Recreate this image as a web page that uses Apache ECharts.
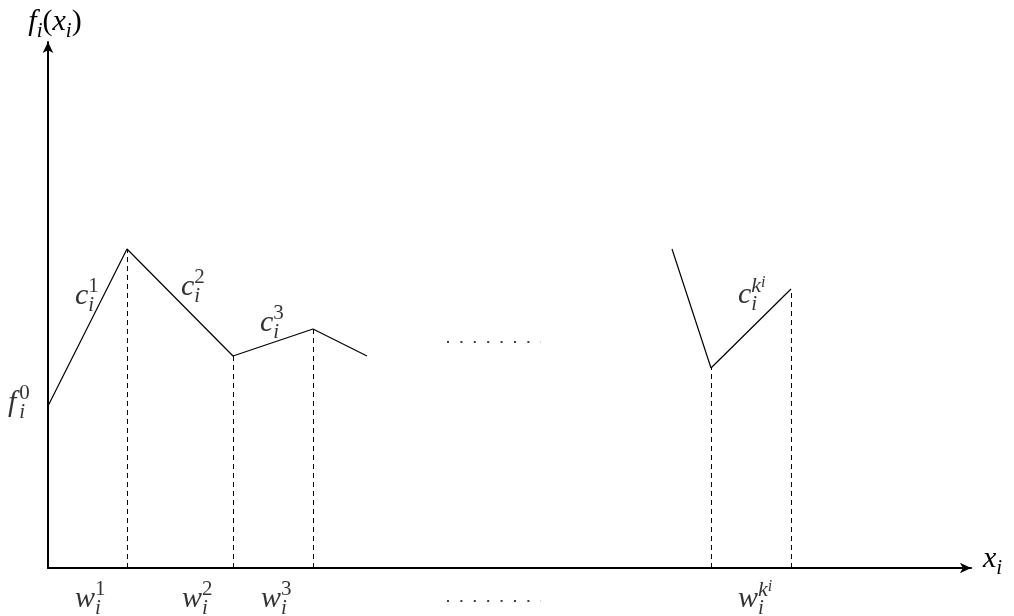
<!DOCTYPE html>
<html>
<head>
<meta charset="utf-8">
<script src="https://cdn.jsdelivr.net/npm/echarts@6/dist/echarts.min.js"></script>
<style>
  html, body { margin: 0; padding: 0; background: #fff; }
  #chart { width: 1014px; height: 616px; }
</style>
</head>
<body>
<div id="chart"></div>
<script>
// units: x = horizontal position along x_i, y = f_i(x_i)
const firstX = [0, 0.79, 1.85, 2.65, 3.19]
const firstY = [1.62, 3.19, 2.12, 2.39, 2.12]
const lastX = [6.24, 6.63, 7.43]
const lastY = [3.19, 2.00, 2.79]

// breakpoints w_i^j with dashed drop lines
const dropX = [0.79, 1.85, 2.65, 6.63, 7.43]
const dropY = [3.19, 2.12, 2.39, 2.00, 2.79]

// the two dotted "..." gaps
const dotsX = [3.99, 4.93]
const dotsTopY = 2.26
const dotsBottomY = -0.33

// text labels: [x, y, rich text]
const labelX = [-0.40, 0.27, 1.33, 2.12, 6.90, 0.27, 1.34, 2.13, 6.90]
const labelY = [1.65, 2.72, 2.81, 2.45, 2.73, -0.31, -0.31, -0.31, -0.31]
const labelText = [
  '{it|f}{gap|}{sup|0}{sub|i}',
  '{it|c}{sup|1}{sub|i}',
  '{it|c}{sup|2}{sub|i}',
  '{it|c}{sup|3}{sub|i}',
  '{it|c}{subz|i}{supk|k}{supi|i}',
  '{it|w}{sup|1}{sub|i}',
  '{it|w}{sup|2}{sub|i}',
  '{it|w}{sup|3}{sub|i}',
  '{it|w}{subz|i}{supk|k}{supi|i}'
]

const F = 'Liberation Serif'
function makeRich() {
  return {
    it: { fontFamily: F, fontStyle: 'italic', fontSize: 30, lineHeight: 40, color: '#000' },
    rm: { fontFamily: F, fontStyle: 'normal', fontSize: 30, lineHeight: 40, color: '#000' },
    gap: { width: 3, lineHeight: 40 },
    sup: { fontFamily: F, fontStyle: 'normal', fontSize: 21, lineHeight: 15, verticalAlign: 'top', width: 0, align: 'left', color: '#000' },
    sub: { fontFamily: F, fontStyle: 'italic', fontSize: 21, lineHeight: 19, verticalAlign: 'bottom', color: '#000' },
    subz: { fontFamily: F, fontStyle: 'italic', fontSize: 21, lineHeight: 19, verticalAlign: 'bottom', width: 0, align: 'left', color: '#000' },
    supk: { fontFamily: F, fontStyle: 'italic', fontSize: 22, lineHeight: 15, verticalAlign: 'top', color: '#000' },
    supi: { fontFamily: F, fontStyle: 'italic', fontSize: 16, lineHeight: 26, verticalAlign: 'top', color: '#000' }
  }
}
const textBase = { fontFamily: F, fontStyle: 'italic', fontSize: 30, color: '#000' }

const chart = echarts.init(document.getElementById('chart'), null, { renderer: 'canvas' })

function axisLine() {
  return {
    show: true,
    onZero: false,
    symbol: ['none', 'arrow'],
    symbolSize: [8, 11],
    lineStyle: { color: '#000', width: 2 }
  }
}

chart.setOption({
  animation: false,
  backgroundColor: '#fff',
  textStyle: { fontFamily: F },
  grid: { left: 48, right: 43, top: 42, bottom: 48 },
  xAxis: {
    type: 'value',
    min: 0,
    max: 9.23,
    name: '{it|x}{sub|i}',
    nameLocation: 'end',
    nameGap: 12,
    nameTextStyle: { ...textBase, rich: makeRich(), padding: [0, 0, 18, 0] },
    axisLine: axisLine(),
    axisTick: { show: false },
    axisLabel: { show: false },
    splitLine: { show: false }
  },
  yAxis: {
    type: 'value',
    min: 0,
    max: 5.26,
    name: '{it|f}{sub|i}{rm|(}{it|x}{sub|i}{rm|)}',
    nameLocation: 'end',
    nameGap: 0,
    nameTextStyle: { ...textBase, rich: makeRich(), align: 'center', padding: [0, 0, 0, 14] },
    axisLine: axisLine(),
    axisTick: { show: false },
    axisLabel: { show: false },
    splitLine: { show: false }
  },
  series: [
    {
      type: 'line',
      data: firstX.map((x, i) => [x, firstY[i]]),
      symbol: 'none',
      lineStyle: { color: '#000', width: 1.2 },
      markLine: {
        silent: true,
        symbol: 'none',
        label: { show: false },
        lineStyle: { color: '#000', width: 1, type: [5, 4] },
        data: dropX.map((x, i) => [{ coord: [x, 0] }, { coord: [x, dropY[i]] }])
      }
    },
    {
      type: 'line',
      data: lastX.map((x, i) => [x, lastY[i]]),
      symbol: 'none',
      lineStyle: { color: '#000', width: 1.2 }
    },
    {
      type: 'line',
      data: dotsX.map(x => [x, dotsTopY]),
      symbol: 'none',
      lineStyle: { color: '#000', width: 1.6, type: [2, 11.4] }
    },
    {
      type: 'line',
      clip: false,
      data: dotsX.map(x => [x, dotsBottomY]),
      symbol: 'none',
      lineStyle: { color: '#000', width: 1.6, type: [2, 11.4] }
    },
    {
      type: 'scatter',
      clip: false,
      symbolSize: 0,
      data: labelX.map((x, i) => ({ value: [x, labelY[i]], name: labelText[i] })),
      label: {
        show: true,
        position: 'right',
        distance: 0,
        ...textBase,
        formatter: p => p.name,
        rich: makeRich()
      }
    }
  ]
})
</script>
</body>
</html>
